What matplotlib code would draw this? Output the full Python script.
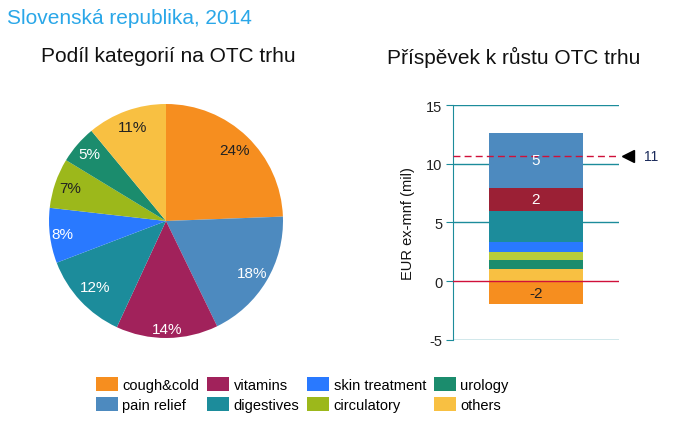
import matplotlib
matplotlib.use("Agg")
import matplotlib.pyplot as plt
import matplotlib.transforms as mtransforms
from matplotlib.patches import Patch
import numpy as np

plt.rcParams['font.family'] = ['Liberation Sans', 'DejaVu Sans']

# data
categories = ["cough&cold", "pain relief", "vitamins", "digestives",
              "skin treatment", "circulatory", "urology", "others"]
share_pct = [24.4, 18.4, 14.1, 12.3, 7.6, 6.9, 5.3, 11.0]
growth_mil = [-2.0, 4.69, 1.96, 2.64, 0.85, 0.68, 0.77, 1.05]
bar_label_cats = ["cough&cold", "vitamins", "pain relief"]
y_ticks = [-5, 0, 5, 10, 15]

pie_colors = ["#F68E1F", "#4D8ABF", "#A1225B", "#1C8C9B",
              "#2979FF", "#9CB81B", "#1B8C6D", "#F8C042"]
bar_colors = ["#F68E1F", "#4D8ABF", "#9B2035", "#1C8C9B",
              "#2979FF", "#B8CC3A", "#1B8C6D", "#F8C042"]
pct_text_colors = ["#222222", "white", "white", "white",
                   "white", "#222222", "white", "#222222"]
pct_label_r = [0.84, 0.86, 0.92, 0.83, 0.89, 0.87, 0.87, 0.85]

TEAL = "#1C8C9B"
CRIMSON = "#D0103A"

fig = plt.figure(figsize=(6.8, 4.27), dpi=100)
W, H = 680, 427


def px_axes(left, top, width, height):
    return fig.add_axes([left / W, 1 - (top + height) / H, width / W, height / H])


fig.text(7 / W, 1 - 19 / H, "Slovenská republika, 2014", color="#2AA7E8",
         fontsize=15, ha="left", va="center")
fig.text(168 / W, 1 - 57 / H, "Podíl kategorií na OTC trhu", color="#111111",
         fontsize=15, ha="center", va="center")
fig.text(514 / W, 1 - 57 / H, "Příspěvek k růstu OTC trhu", color="#111111",
         fontsize=15, ha="center", va="center")

# pie
ax1 = px_axes(166 - 117, 222 - 117, 234, 234)
wedges, texts, autotexts = ax1.pie(
    share_pct, colors=pie_colors, startangle=90, counterclock=False,
    autopct=lambda p: f"{p:.0f}%", pctdistance=0.86, radius=1,
    wedgeprops=dict(linewidth=0))
for w, t, c, r in zip(wedges, autotexts, pct_text_colors, pct_label_r):
    ang = np.deg2rad((w.theta1 + w.theta2) / 2)
    t.set_position((r * np.cos(ang), r * np.sin(ang)))
    t.set_color(c)
    t.set_fontsize(11)
ax1.set_xlim(-1, 1)
ax1.set_ylim(-1, 1)
ax1.set_aspect("equal")

# stacked growth bar
ax2 = px_axes(453.3, 106, 165.4, 234.7)
ax2.set_xlim(-0.5, 0.5)
ax2.set_ylim(-5, 15)
for y in y_ticks:
    if y != 0:
        ax2.axhline(y, color=TEAL, linewidth=1, zorder=1)

pos_bottom = 0.0
for i in range(len(categories) - 1, -1, -1):
    v = growth_mil[i]
    if v < 0:
        bottom = 0.0
    else:
        bottom = pos_bottom
        pos_bottom += v
    ax2.bar(0, v, bottom=bottom, width=0.565, color=bar_colors[i],
            linewidth=0, zorder=2)
    if categories[i] in bar_label_cats:
        ax2.text(0, bottom + v / 2, f"{v:.0f}",
                 color="#222222" if v < 0 else "white",
                 fontsize=11, ha="center", va="center", zorder=4)

ax2.axhline(0, color=CRIMSON, linewidth=1, zorder=3)
total = sum(growth_mil)
ax2.axhline(total, color=CRIMSON, linewidth=1, linestyle=(0, (5, 3)), zorder=3)
tr = mtransforms.blended_transform_factory(ax2.transAxes, ax2.transData)
ax2.plot([1.057], [total], marker="<", color="black", markersize=9,
         transform=tr, clip_on=False)
ax2.text(1.15, total, f"{total:.0f}", transform=tr, color="#1A2A5A",
         fontsize=10, ha="left", va="center")

for s in ["top", "right", "bottom"]:
    ax2.spines[s].set_visible(False)
ax2.spines["left"].set_color(TEAL)
ax2.set_xticks([])
ax2.set_yticks(y_ticks)
ax2.set_yticklabels([str(y) for y in y_ticks])
ax2.tick_params(axis="y", colors=TEAL, labelcolor="#222222", length=5,
                labelsize=10.5, pad=3)
ax2.set_ylabel("EUR ex-mnf (mil)", fontsize=10.5, color="#111111", labelpad=8)

# legend
handles = [Patch(facecolor=c, edgecolor="none") for c in pie_colors]
fig.legend(handles, categories, ncol=4, loc="upper left",
           bbox_to_anchor=(96 / W, 1 - 378 / H), frameon=False, borderpad=0,
           borderaxespad=0, fontsize=10.5, handlelength=1.5, handleheight=1.15,
           handletextpad=0.3, columnspacing=0.55, labelspacing=0.3)

fig.savefig("out.png", dpi=100)
